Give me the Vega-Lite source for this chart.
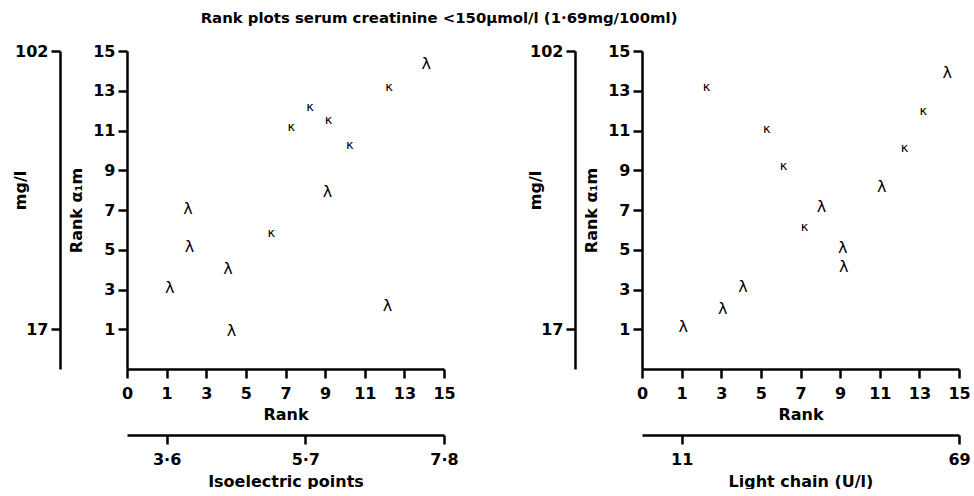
{
  "$schema": "https://vega.github.io/schema/vega-lite/v6.json",
  "background": "white",
  "padding": {"left": 12, "top": 11, "right": 5, "bottom": 0},
  "title": {"text": "Rank plots serum creatinine <150µmol/l (1·69mg/100ml)", "font": "DejaVu Sans", "fontSize": 14.9, "fontWeight": "bold", "color": "black", "anchor": "middle", "dx": -52, "offset": 17},
  "datasets": {
    "iso": [
      {"rank": 14.1, "a1m": 14.35, "chain": "λ"},
      {"rank": 12.23, "a1m": 13.18, "chain": "κ"},
      {"rank": 8.24, "a1m": 12.17, "chain": "κ"},
      {"rank": 9.17, "a1m": 11.53, "chain": "κ"},
      {"rank": 7.3, "a1m": 11.19, "chain": "κ"},
      {"rank": 10.25, "a1m": 10.26, "chain": "κ"},
      {"rank": 9.12, "a1m": 7.9, "chain": "λ"},
      {"rank": 2.08, "a1m": 7.03, "chain": "λ"},
      {"rank": 6.29, "a1m": 5.85, "chain": "κ"},
      {"rank": 2.15, "a1m": 5.15, "chain": "λ"},
      {"rank": 4.1, "a1m": 4.05, "chain": "λ"},
      {"rank": 1.16, "a1m": 3.08, "chain": "λ"},
      {"rank": 12.15, "a1m": 2.18, "chain": "λ"},
      {"rank": 4.27, "a1m": 0.92, "chain": "λ"}
    ],
    "light": [
      {"rank": 14.4, "a1m": 13.9, "chain": "λ"},
      {"rank": 2.26, "a1m": 13.2, "chain": "κ"},
      {"rank": 13.2, "a1m": 12.0, "chain": "κ"},
      {"rank": 5.3, "a1m": 11.07, "chain": "κ"},
      {"rank": 12.25, "a1m": 10.1, "chain": "κ"},
      {"rank": 6.14, "a1m": 9.2, "chain": "κ"},
      {"rank": 11.1, "a1m": 8.16, "chain": "λ"},
      {"rank": 8.06, "a1m": 7.17, "chain": "λ"},
      {"rank": 7.2, "a1m": 6.16, "chain": "κ"},
      {"rank": 9.13, "a1m": 5.1, "chain": "λ"},
      {"rank": 9.18, "a1m": 4.14, "chain": "λ"},
      {"rank": 4.1, "a1m": 3.13, "chain": "λ"},
      {"rank": 3.08, "a1m": 2.02, "chain": "λ"},
      {"rank": 1.08, "a1m": 1.09, "chain": "λ"}
    ],
    "isoAxis": [{"v": 3.6, "mgl": 17}, {"v": 7.8, "mgl": 102}],
    "lightAxis": [{"v": 11, "mgl": 17}, {"v": 69, "mgl": 102}]
  },
  "spacing": 68,
  "hconcat": [
    {
      "width": 317,
      "height": 318,
      "layer": [
        {
          "data": {"name": "iso"},
          "mark": {"type": "text", "font": "DejaVu Sans", "color": "black", "align": "center", "baseline": "middle"},
          "encoding": {
            "x": {"field": "rank", "type": "quantitative", "scale": {"domain": [-1, 15], "nice": false, "zero": false},
              "axis": {"values": [-1, 1, 3, 5, 7, 9, 11, 13, 15], "labelExpr": "datum.value == -1 ? '0' : datum.label", "title": "Rank", "labelPadding": 7, "titlePadding": 5}},
            "y": {"field": "a1m", "type": "quantitative", "scale": {"domain": [-1, 15], "nice": false, "zero": false},
              "axis": {"values": [1, 3, 5, 7, 9, 11, 13, 15], "title": "Rank α₁m", "labelPadding": 3, "titlePadding": 8}},
            "text": {"field": "chain"},
            "size": {"field": "chain", "type": "nominal", "scale": {"domain": ["κ", "λ"], "range": [13, 16]}, "legend": null}
          }
        },
        {
          "data": {"name": "isoAxis"},
          "mark": {"type": "point", "opacity": 0},
          "encoding": {
            "x": {"field": "v", "type": "quantitative", "scale": {"domain": [3.0, 7.8], "nice": false, "zero": false},
              "axis": {"orient": "bottom", "offset": 66, "values": [3.6, 5.7, 7.8], "labelExpr": "replace(format(datum.value, '.1f'), '.', '·')", "title": "Isoelectric points", "labelPadding": 7, "titlePadding": 6}},
            "y": {"field": "mgl", "type": "quantitative", "scale": {"domain": [4.857, 102], "nice": false, "zero": false},
              "axis": {"orient": "left", "offset": 67, "values": [17, 102], "format": "d", "title": "mg/l", "labelPadding": 3, "titleX": -32, "titleY": 139}}
          }
        }
      ],
      "resolve": {"scale": {"x": "independent", "y": "independent"}}
    },
    {
      "width": 317,
      "height": 318,
      "layer": [
        {
          "data": {"name": "light"},
          "mark": {"type": "text", "font": "DejaVu Sans", "color": "black", "align": "center", "baseline": "middle"},
          "encoding": {
            "x": {"field": "rank", "type": "quantitative", "scale": {"domain": [-1, 15], "nice": false, "zero": false},
              "axis": {"values": [-1, 1, 3, 5, 7, 9, 11, 13, 15], "labelExpr": "datum.value == -1 ? '0' : datum.label", "title": "Rank", "labelPadding": 7, "titlePadding": 5}},
            "y": {"field": "a1m", "type": "quantitative", "scale": {"domain": [-1, 15], "nice": false, "zero": false},
              "axis": {"values": [1, 3, 5, 7, 9, 11, 13, 15], "title": "Rank α₁m", "labelPadding": 3, "titlePadding": 8}},
            "text": {"field": "chain"},
            "size": {"field": "chain", "type": "nominal", "scale": {"domain": ["κ", "λ"], "range": [13, 16]}, "legend": null}
          }
        },
        {
          "data": {"name": "lightAxis"},
          "mark": {"type": "point", "opacity": 0},
          "encoding": {
            "x": {"field": "v", "type": "quantitative", "scale": {"domain": [2.714, 69], "nice": false, "zero": false},
              "axis": {"orient": "bottom", "offset": 66, "values": [11, 69], "format": "d", "title": "Light chain (U/l)", "labelPadding": 7, "titlePadding": 6}},
            "y": {"field": "mgl", "type": "quantitative", "scale": {"domain": [4.857, 102], "nice": false, "zero": false},
              "axis": {"orient": "left", "offset": 67, "values": [17, 102], "format": "d", "title": "mg/l", "labelPadding": 3, "titleX": -32, "titleY": 139}}
          }
        }
      ],
      "resolve": {"scale": {"x": "independent", "y": "independent"}}
    }
  ],
  "config": {
    "view": {"stroke": null},
    "axis": {
      "grid": false,
      "domainColor": "black", "domainWidth": 2.5,
      "tickColor": "black", "tickWidth": 2.5, "tickSize": 9,
      "labelFont": "DejaVu Sans", "labelFontSize": 16, "labelFontWeight": "bold", "labelColor": "black",
      "labelFlush": false, "labelOverlap": false,
      "titleFont": "DejaVu Sans", "titleFontSize": 16, "titleFontWeight": "bold", "titleColor": "black"
    }
  }
}
